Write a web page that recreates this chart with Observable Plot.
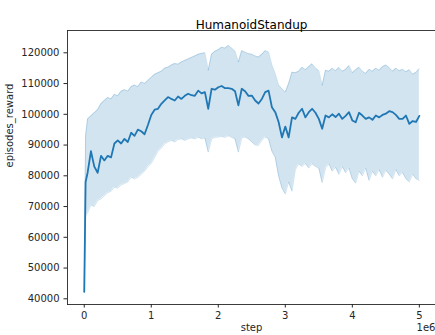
<!DOCTYPE html>
<html>
<head>
<meta charset="utf-8">
<script src="https://cdn.jsdelivr.net/npm/d3@7"></script>
<script src="https://cdn.jsdelivr.net/npm/@observablehq/plot@0.6"></script>
<style>
  html, body { margin: 0; padding: 0; background: #fff; }
  #chart svg { display: block; }
</style>
</head>
<body>
<div id="chart"></div>
<script>
const title = "HumanoidStandup";
const xLabel = "step";
const xOffsetLabel = "1e6";
const yLabel = "episodes_reward";

// step, in millions
const steps = [
  0, 0.02, 0.05, 0.10, 0.15, 0.20, 0.25, 0.30, 0.35, 0.40, 0.45, 0.50, 0.55, 0.60, 0.65, 0.70, 0.75, 0.80, 0.85, 0.90, 0.95,
  1.00, 1.05, 1.10, 1.15, 1.20, 1.25, 1.30, 1.35, 1.40, 1.45, 1.50, 1.55, 1.60, 1.65, 1.70, 1.75, 1.80, 1.85, 1.90, 1.95,
  2.00, 2.05, 2.10, 2.15, 2.20, 2.25, 2.30, 2.35, 2.40, 2.45, 2.50, 2.55, 2.60, 2.65, 2.70, 2.75, 2.80, 2.85, 2.90, 2.95,
  3.00, 3.05, 3.10, 3.15, 3.20, 3.25, 3.30, 3.35, 3.40, 3.45, 3.50, 3.55, 3.60, 3.65, 3.70, 3.75, 3.80, 3.85, 3.90, 3.95,
  4.00, 4.05, 4.10, 4.15, 4.20, 4.25, 4.30, 4.35, 4.40, 4.45, 4.50, 4.55, 4.60, 4.65, 4.70, 4.75, 4.80, 4.85, 4.90, 4.95,
  5.00
];

// mean episodes_reward, in thousands
const meanReward = [
  42.3, 78.0, 81.0, 88.0, 83.0, 81.0, 86.5, 85.0, 86.5, 86.0, 90.5, 91.5, 90.5, 92.0, 91.0, 94.0, 93.0, 95.0, 94.5, 93.5, 96.5,
  99.8, 101.5, 101.8, 103.4, 104.5, 105.6, 105.0, 104.5, 105.8, 105.0, 106.0, 106.7, 106.2, 106.0, 107.7, 106.8, 107.2, 101.8, 108.3, 108.0,
  108.8, 109.2, 108.5, 108.5, 108.3, 107.5, 102.9, 108.3, 107.5, 106.0, 106.1, 104.5, 103.5, 105.0, 107.2, 107.7, 102.3, 100.7, 97.5, 92.5,
  96.0, 92.5, 99.0, 98.5, 100.5, 101.8, 99.0, 100.7, 101.8, 100.5, 98.5, 95.3, 99.6, 99.0, 100.0, 99.1, 100.2, 98.5, 99.5, 100.7,
  98.0, 97.4, 100.5, 99.6, 98.5, 99.0, 98.2, 99.6, 99.0, 99.8, 100.2, 101.0, 100.7, 99.8, 98.5, 98.5, 99.6, 96.9, 97.8, 97.5,
  99.5
];

// upper edge of the band, in thousands
const upperReward = [
  42.6, 93.0, 98.5, 99.5, 100.5, 101.5, 103.5, 104.5, 105.5, 105.0, 106.5, 106.0, 107.5, 108.0, 107.5, 109.0, 109.5, 109.0, 110.5, 110.0, 111.0,
  112.0, 113.0, 113.5, 114.0, 115.0, 115.3, 116.0, 116.5, 116.3, 117.0, 117.5, 118.0, 118.5, 119.0, 119.5, 119.8, 120.0, 114.3, 119.5, 120.5,
  121.0, 121.8, 121.5, 122.4, 121.5, 120.5, 117.0, 120.7, 120.2, 119.7, 119.5, 119.0, 118.6, 119.5, 120.7, 120.2, 116.0, 113.2, 109.5, 108.3,
  107.2, 110.0, 113.7, 113.5, 114.0, 115.3, 114.5, 115.5, 116.4, 115.0, 114.2, 109.4, 114.3, 114.0, 115.0, 114.2, 115.2, 114.0, 114.6, 115.8,
  113.5, 114.5, 115.3, 114.0, 113.3, 114.6, 114.0, 115.0, 114.3, 115.5, 116.0, 115.2, 114.0, 115.0, 114.2, 114.6, 113.8, 114.5, 113.0, 113.6,
  114.8
];

// lower edge of the band, in thousands
const lowerReward = [
  42.0, 67.0, 68.0, 70.5, 70.0, 72.0, 72.5, 73.5, 74.5, 75.0, 76.3, 76.0, 77.0, 77.5, 78.0, 79.5, 79.0, 79.5, 80.5, 81.5, 83.0,
  84.0, 86.0, 88.0, 89.0, 90.4, 91.0, 91.5, 91.0, 91.8, 92.0, 91.5, 92.0, 92.3, 92.0, 92.5, 92.0, 92.3, 87.7, 92.0, 92.5,
  92.6, 92.8, 92.5, 93.0, 92.5, 92.0, 87.7, 92.3, 92.6, 92.0, 91.0, 90.0, 89.9, 91.5, 92.6, 92.0, 88.0, 86.0, 80.0, 76.0,
  74.1, 78.0, 75.0, 82.0, 83.9, 83.0, 84.0, 82.5, 83.9, 83.0, 82.5, 77.8, 82.5, 83.9, 81.5, 82.8, 80.5, 83.0, 81.0, 82.5,
  79.0, 77.6, 81.5, 80.0, 82.5, 78.5, 81.5, 80.0, 82.0, 79.5, 81.8, 80.5, 79.0, 82.0, 80.0, 81.0, 79.0, 78.0, 80.5, 79.0,
  78.5
];

const xTicks = [0, 1, 2, 3, 4, 5];
const yTicks = [40000, 50000, 60000, 70000, 80000, 90000, 100000, 110000, 120000];

const data = steps.map((s, i) => ({
  step: s,
  mean: meanReward[i] * 1000,
  lo: lowerReward[i] * 1000,
  hi: upperReward[i] * 1000
}));

const blue = "#1f77b4";
const ink = "#262626";

const chart = Plot.plot({
  width: 435,
  height: 335,
  marginTop: 30,
  marginBottom: 31,
  marginLeft: 67,
  marginRight: 0,
  style: { fontFamily: "DejaVu Sans", fontSize: "10px", color: ink, background: "#fff" },
  x: { domain: [-0.25, 5.241] },
  y: { domain: [38146, 127252] },
  marks: [
    Plot.areaY(data, { x: "step", y1: "lo", y2: "hi", fill: blue, fillOpacity: 0.2 }),
    Plot.line(data, { x: "step", y: "lo", stroke: blue, strokeOpacity: 0.2, strokeWidth: 1 }),
    Plot.line(data, { x: "step", y: "hi", stroke: blue, strokeOpacity: 0.2, strokeWidth: 1 }),
    Plot.line(data, { x: "step", y: "mean", stroke: blue, strokeWidth: 1.8 }),
    Plot.frame({ anchor: "left", stroke: ink, strokeWidth: 0.9 }),
    Plot.frame({ anchor: "top", stroke: ink, strokeWidth: 0.9 }),
    Plot.frame({ anchor: "bottom", stroke: ink, strokeWidth: 0.9 }),
    Plot.axisX({ ticks: xTicks, tickFormat: d => String(d), tickSize: 3.5, tickPadding: 4, label: null, stroke: ink }),
    Plot.axisY({ ticks: yTicks, tickFormat: d => String(d), tickSize: 3.5, tickPadding: 4.5, label: null, stroke: ink }),
    Plot.text([title], { frameAnchor: "top", dy: -10, fontSize: 12, fill: "#000" }),
    Plot.text([xLabel], { frameAnchor: "bottom", dy: 26, fontSize: 10, fill: ink }),
    Plot.text([xOffsetLabel], { frameAnchor: "bottom-right", dy: 26, textAnchor: "end", fontSize: 10, fill: ink }),
    Plot.text([yLabel], { frameAnchor: "left", dx: -57.5, rotate: -90, fontSize: 10, fill: ink })
  ]
});

document.getElementById("chart").appendChild(chart);
</script>
</body>
</html>
